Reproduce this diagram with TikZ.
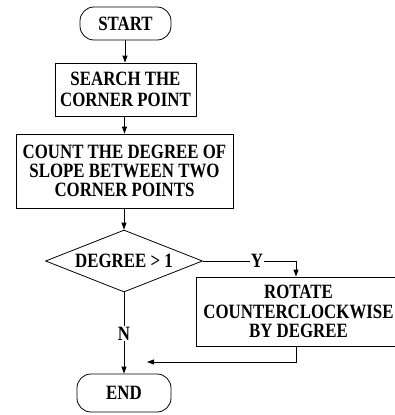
\documentclass[tikz,border=0pt]{standalone}
\usepackage{fontspec}
\setmainfont{Liberation Serif}[FakeStretch=0.83]
\usetikzlibrary{shapes.geometric,arrows.meta}
\begin{document}
\begin{tikzpicture}[x=1pt,y=-1pt,
  font=\bfseries\fontsize{20.3}{19.3}\selectfont,
  box/.style={draw,line width=0.8pt,inner sep=0pt,align=center},
  term/.style={box,rounded corners=14pt},
  dec/.style={draw,line width=0.8pt,diamond,inner sep=0pt,shape aspect=2.53},
  arr/.style={line width=0.8pt,-{Triangle[length=7pt,width=5pt]}},
  ln/.style={line width=0.8pt},
  lbl/.style={fill=white,inner sep=1pt}]
\useasboundingbox (0,0) rectangle (395,415);
\node[term,minimum width=91pt,minimum height=33pt] (start) at (125.5,23.5) {START};
\node[box,minimum width=141pt,minimum height=53pt,font=\bfseries\fontsize{20.3}{20.6}\selectfont] (search) at (125.5,89.5) {SEARCH THE\\CORNER POINT};
\node[box,minimum width=217pt,minimum height=74pt,font=\bfseries\fontsize{20.3}{18.7}\selectfont] (count) at (124.5,171) {COUNT THE DEGREE OF\\SLOPE BETWEEN TWO\\CORNER POINTS};
\node[dec,minimum width=157pt,minimum height=62pt] (deg) at (124,261) {DEGREE > 1};
\node[box,minimum width=205pt,minimum height=69pt] (rot) at (298.5,311.5) {ROTATE\\COUNTERCLOCKWISE\\BY DEGREE};
\node[term,minimum width=94pt,minimum height=38pt] (end) at (124,393) {END};
\coordinate (ydrop) at (296,261);
\coordinate (rdown) at (296,362);
\coordinate (rback) at (147,362);
\draw[arr] (start.south -| 125,0) -- (search.north -| 125,0);
\draw[arr] (search.south -| 124.5,0) -- (count.north -| 124.5,0);
\draw[arr] (count.south -| deg.north) -- (deg.north);
\draw[ln] (deg.east) -- (ydrop) node[lbl,pos=0.58] {Y};
\draw[arr] (ydrop) -- (ydrop |- rot.north);
\draw[arr] (deg.south) -- (deg.south |- end.north) node[lbl,pos=0.51] {N};
\draw[arr] (rdown |- rot.south) -- (rdown) -- (rback);
\end{tikzpicture}
\end{document}
